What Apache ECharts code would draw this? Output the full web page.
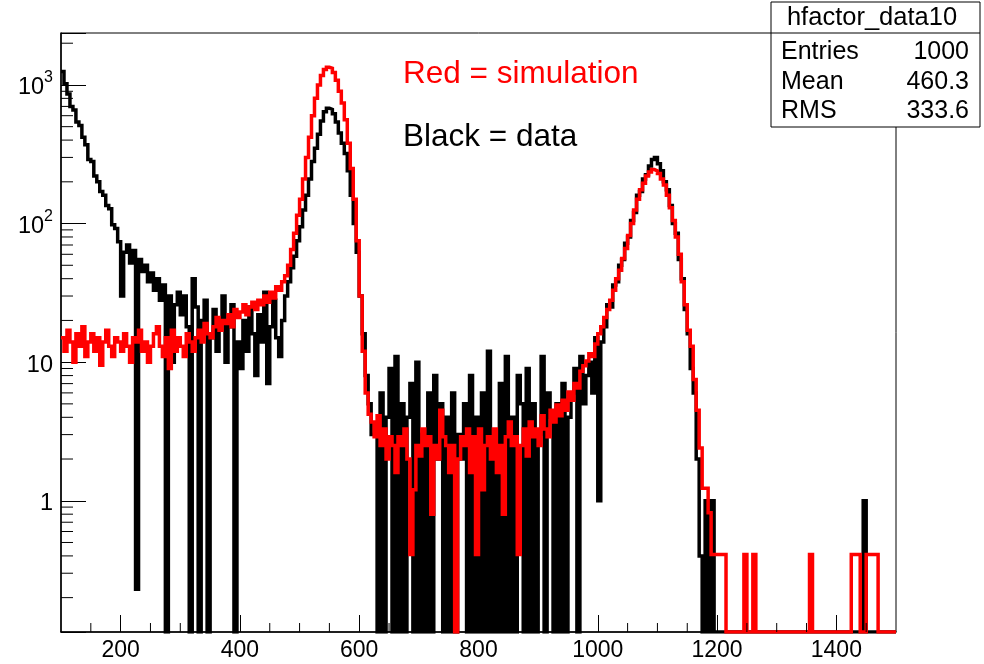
<!DOCTYPE html>
<html>
<head>
<meta charset="utf-8">
<script src="https://cdn.jsdelivr.net/npm/echarts@6/dist/echarts.min.js"></script>
<style>html,body{margin:0;padding:0;background:#fff}#c{width:984px;height:664px}</style>
</head>
<body>
<div id="c"></div>
<script>
// Histogram definition: bins of width 5 starting at 100 (280 bins up to 1500)
const BIN_LOW = 100;
const BIN_WIDTH = 5;

// Black = data
const dataCounts = [
  1250, 1020, 860, 700, 660, 540, 510, 420, 370, 290, 280, 220, 200, 170, 160, 135, 128, 98, 92, 74,
  30, 62, 70, 52, 64, 0.23, 55, 45, 50, 38, 44, 33, 40, 28, 36, 0, 30, 10, 26, 32,
  22, 30, 18, 0, 40, 25, 0, 20, 28, 0, 15, 24, 12, 20, 30, 10, 18, 26, 0, 14,
  9, 20, 12, 25, 16, 8, 22, 14, 32, 7, 18, 28, 15, 11, 20, 30, 38, 48, 58, 75,
  95, 125, 160, 210, 280, 350, 440, 550, 640, 680, 665, 620, 540, 450, 380, 320, 240, 160, 100, 62,
  30, 16, 8, 5, 3, 3, 0, 6, 0, 4, 9, 0, 11, 0, 5, 0, 4, 7, 0, 10,
  0, 3, 0, 6, 0, 8, 2, 5, 0, 4, 0, 6, 0, 3, 2, 5, 0, 8, 0, 4,
  0, 6, 0, 12, 0, 3, 0, 7, 0, 11, 0, 4, 0, 8, 5, 0, 9, 0, 5, 0,
  3, 11, 0, 6, 4, 0, 5, 0, 7, 0, 4, 6, 9, 0, 11, 5, 8, 10, 6, 15,
  1, 14, 18, 26, 25, 36, 38, 50, 55, 72, 80, 105, 120, 160, 170, 210, 225, 260, 290, 300,
  270, 240, 200, 175, 135, 100, 85, 55, 40, 24, 16, 9, 6, 2, 0.4, 0, 1, 0, 1, 0,
  0, 0, 0, 0, 0, 0, 0, 0, 0, 0, 0, 0, 0, 0, 0, 0, 0, 0, 0, 0,
  0, 0, 0, 0, 0, 0, 0, 0, 0, 0, 0, 0, 0, 0, 0, 0, 0, 0, 0, 0,
  0, 0, 0, 0, 0, 0, 0, 0, 0, 1, 0, 0, 0, 0, 0, 0, 0, 0, 0, 0
];

// Red = simulation
const simCounts = [
  15, 12, 17, 14, 10, 16, 13, 18, 11, 14, 16, 12, 15, 9.5, 14, 17, 13, 11, 15, 14,
  12, 16, 13, 10, 15, 14, 17, 12, 14, 10, 13, 16, 18, 13, 11, 15, 9, 17, 12, 15,
  13, 11, 16, 14, 12, 15, 17, 14, 19, 16, 15, 18, 21, 17, 20, 19, 22, 18, 24, 21,
  23, 26, 22, 25, 27, 24, 28, 26, 30, 27, 32, 29, 35, 33, 38, 42, 50, 65, 85, 115,
  150, 210, 300, 420, 600, 800, 1000, 1170, 1290, 1340, 1320, 1230, 1080, 900, 740, 560, 380, 250, 150, 75,
  30, 12, 6, 4.2, 3.7, 2.9, 4.1, 2.5, 3.3, 2.0, 2.9, 2.5, 1.6, 2.9, 2.5, 3.3, 2.0, 0.41, 1.2, 2.5,
  2.1, 3.3, 2.5, 2.9, 0.8, 2.5, 2.0, 4.5, 2.9, 2.5, 1.6, 2.5, 0, 2.0, 2.9, 2.5, 3.3, 1.6, 2.9, 0.41,
  3.3, 1.2, 2.5, 2.9, 2.0, 3.3, 1.6, 2.5, 0.8, 2.9, 3.7, 2.5, 2.9, 0.41, 2.5, 3.3, 2.1, 3.7, 2.9, 3.3,
  2.5, 4.1, 3.3, 2.9, 4.5, 3.7, 4.9, 4.1, 5.3, 4.5, 6.1, 5.3, 7.0, 6.5, 8.6, 9.4, 10.2, 11.5, 11, 13.5,
  16, 18, 21, 24, 28, 33, 40, 46, 56, 66, 82, 100, 125, 150, 175, 195, 220, 235, 245, 240,
  230, 210, 190, 160, 130, 105, 80, 60, 38, 26, 17, 13, 7.5, 4.5, 2.4, 1.23, 1.23, 0.82, 0.41, 0.41,
  0.41, 0.41, 0.41, 0, 0, 0, 0, 0, 0, 0.41, 0, 0, 0.41, 0, 0, 0, 0, 0, 0, 0,
  0, 0, 0, 0, 0, 0, 0, 0, 0, 0, 0, 0.41, 0, 0, 0, 0, 0, 0, 0, 0,
  0, 0, 0, 0, 0, 0.41, 0.41, 0.41, 0, 0, 0.41, 0.41, 0.41, 0.41, 0, 0, 0, 0, 0, 0
];

const xRange = [100, 1500];
const yRange = [0.113, 2370];
const xTickValues = [200, 400, 600, 800, 1000, 1200, 1400];
const xMinorTickValues = [150, 250, 300, 350, 450, 500, 550, 650, 700, 750, 850, 900, 950,
  1050, 1100, 1150, 1250, 1300, 1350, 1450];
const yTickValues = [1, 10, 100, 1000];
const yTickLabels = ['{b|1}', '{b|10}', '{b|10}{sup|2}', '{b|10}{sup|3}'];
const yMinorTickValues = [0.2, 0.3, 0.4, 0.5, 0.6, 0.7, 0.8, 0.9,
  2, 3, 4, 5, 6, 7, 8, 9,
  20, 30, 40, 50, 60, 70, 80, 90,
  200, 300, 400, 500, 600, 700, 800, 900,
  2000];
const statsTitle = 'hfactor_data10';
const statsNames = ['Entries', 'Mean', 'RMS'];
const statsValues = ['1000', '460.3', '333.6'];
const noteTexts = ['Red = simulation', 'Black = data'];

const FONT = "'Liberation Sans', Arial, Helvetica, sans-serif";

function steps(counts) {
  const pts = counts.map((c, i) => [BIN_LOW + i * BIN_WIDTH, c > 0 ? c : yRange[0]]);
  pts.push([BIN_LOW + counts.length * BIN_WIDTH, pts[pts.length - 1][1]]);
  return pts;
}

const chart = echarts.init(document.getElementById('c'), null, {renderer: 'canvas'});

const statsGraphics = [
  {type: 'rect', z: 100, shape: {x: 771, y: 2, width: 209, height: 125},
   style: {fill: '#fff', stroke: '#000', lineWidth: 1}},
  {type: 'line', z: 101, shape: {x1: 771, y1: 33, x2: 980, y2: 33},
   style: {stroke: '#000', lineWidth: 1}},
  {type: 'text', z: 101, x: 872, y: 18,
   style: {text: statsTitle, fill: '#000', fontSize: 25.5, fontFamily: FONT, align: 'center', verticalAlign: 'middle'}}
];
const rowY = [52, 82, 111];
statsNames.forEach((n, i) => {
  statsGraphics.push({type: 'text', z: 101, x: 781, y: rowY[i],
    style: {text: n, fill: '#000', fontSize: 25, fontFamily: FONT, align: 'left', verticalAlign: 'middle'}});
  statsGraphics.push({type: 'text', z: 101, x: 969, y: rowY[i],
    style: {text: statsValues[i], fill: '#000', fontSize: 25, fontFamily: FONT, align: 'right', verticalAlign: 'middle'}});
});
statsGraphics.push({type: 'text', z: 101, x: 403, y: 74,
  style: {text: noteTexts[0], fill: '#ff0000', fontSize: 31.5, fontFamily: FONT, align: 'left', verticalAlign: 'middle'}});
statsGraphics.push({type: 'text', z: 101, x: 403, y: 137,
  style: {text: noteTexts[1], fill: '#000', fontSize: 31.5, fontFamily: FONT, align: 'left', verticalAlign: 'middle'}});

const option = {
  animation: false,
  backgroundColor: '#fff',
  grid: {left: 61, top: 33, width: 835, height: 599, show: true, borderColor: '#000', borderWidth: 1, backgroundColor: 'transparent'},
  xAxis: {
    type: 'value', min: xRange[0], max: xRange[1], splitNumber: 7, position: 'bottom',
    axisLine: {show: true, onZero: false, lineStyle: {color: '#000', width: 1.5}},
    axisTick: {show: true, inside: true, length: 17, lineStyle: {color: '#000', width: 1}},
    axisLabel: {
      color: '#000', fontSize: 23, fontFamily: FONT, margin: 7,
      showMinLabel: false, showMaxLabel: false,
      formatter: v => xTickValues.indexOf(v) >= 0 ? String(v) : ''
    },
    splitLine: {show: false}
  },
  yAxis: {
    type: 'log', logBase: 10, min: yRange[0], max: yRange[1],
    axisLine: {show: true, lineStyle: {color: '#000', width: 1.5}},
    axisTick: {show: true, inside: true, length: 25, lineStyle: {color: '#000', width: 1}},
    axisLabel: {
      color: '#000', fontSize: 23.5, fontFamily: FONT, margin: 8,
      formatter: v => {
        const e = Math.log10(v);
        for (let i = 0; i < yTickValues.length; i++) {
          if (Math.abs(Math.log10(yTickValues[i]) - e) < 1e-6) return yTickLabels[i];
        }
        return '';
      },
      rich: {
        b: {fontSize: 23.5, fontFamily: FONT, color: '#000', lineHeight: 30, verticalAlign: 'bottom'},
        sup: {fontSize: 16, fontFamily: FONT, color: '#000', lineHeight: 22, verticalAlign: 'top'}
      }
    },
    splitLine: {show: false}
  },
  series: [
    {
      type: 'line', name: 'data', step: 'end', data: steps(dataCounts), symbol: 'none', showSymbol: false,
      lineStyle: {color: '#000', width: 3.5, join: 'miter'}, z: 2, clip: true, silent: true
    },
    {
      type: 'line', name: 'simulation', step: 'end', data: steps(simCounts), symbol: 'none', showSymbol: false,
      lineStyle: {color: '#ff0000', width: 3.5, join: 'miter'}, z: 3, clip: true, silent: true
    },
    {
      type: 'custom', name: 'xminor', z: 5, silent: true,
      data: xMinorTickValues.map(v => [v, yRange[0]]),
      renderItem: (params, api) => {
        const p = api.coord([api.value(0), api.value(1)]);
        return {type: 'line', shape: {x1: p[0], y1: p[1], x2: p[0], y2: p[1] - 9}, style: {stroke: '#000', lineWidth: 1}};
      }
    },
    {
      type: 'custom', name: 'yminor', z: 5, silent: true,
      data: yMinorTickValues.map(v => [xRange[0], v]),
      renderItem: (params, api) => {
        const p = api.coord([api.value(0), api.value(1)]);
        return {type: 'line', shape: {x1: p[0], y1: p[1], x2: p[0] + 12, y2: p[1]}, style: {stroke: '#000', lineWidth: 1}};
      }
    }
  ],
  graphic: statsGraphics
};
chart.setOption(option);
</script>
</body>
</html>
